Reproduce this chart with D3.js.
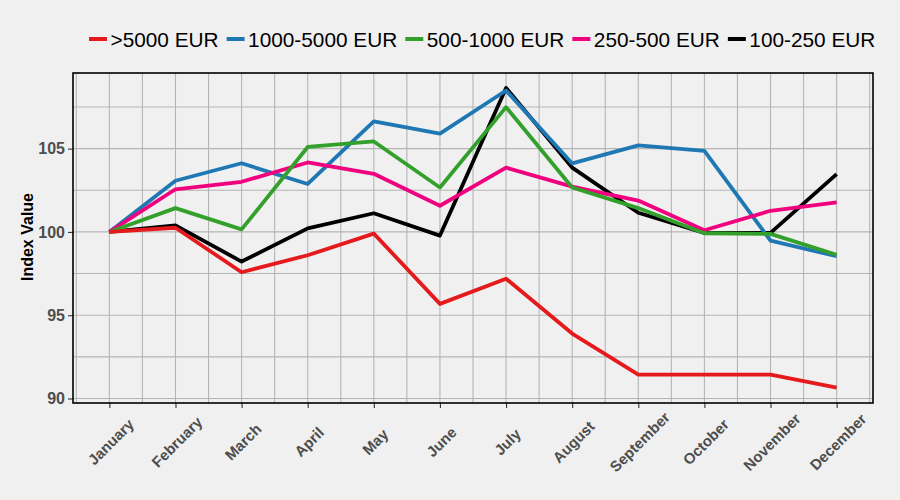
<!DOCTYPE html>
<html>
<head>
<meta charset="utf-8">
<script src="https://cdn.jsdelivr.net/npm/d3@7"></script>
<style>
  html, body { margin: 0; padding: 0; background: #F0F0F0; }
  svg { display: block; }
</style>
</head>
<body>
<div id="chart"></div>
<script>
const months = ["January","February","March","April","May","June","July","August","September","October","November","December"];
const seriesNames = [">5000 EUR","1000-5000 EUR","500-1000 EUR","250-500 EUR","100-250 EUR"];
const seriesColors = ["#E41A1C","#1F78B4","#33A02C","#F0027F","#000000"];
const over5000   = [100, 100.25, 97.58, 98.60, 99.90, 95.68, 97.19, 93.90, 91.43, 91.43, 91.43, 90.65];
const r1000_5000 = [100, 103.07, 104.12, 102.88, 106.63, 105.90, 108.49, 104.11, 105.20, 104.86, 99.48, 98.54];
const r500_1000  = [100, 101.43, 100.15, 105.10, 105.43, 102.67, 107.49, 102.67, 101.43, 99.92, 99.88, 98.63];
const r250_500   = [100, 102.56, 103.01, 104.17, 103.49, 101.57, 103.86, 102.72, 101.88, 100.10, 101.27, 101.77];
const r100_250   = [100, 100.39, 98.22, 100.21, 101.12, 99.78, 108.64, 103.86, 101.15, 99.94, 99.94, 103.47];
const yTicks = [90, 95, 100, 105];
const yMinor = [92.5, 97.5, 102.5, 107.5];
const yTitle = "Index Value";

const seriesValues = [over5000, r1000_5000, r500_1000, r250_500, r100_250];
const drawOrder = [4, 1, 3, 2, 0];

const W = 900, H = 500;
const pL = 73, pR = 873, pT = 73, pB = 403;
const FONT = "Liberation Sans, Arial, sans-serif";

const svg = d3.select("#chart").append("svg").attr("width", W).attr("height", H);
svg.append("rect").attr("width", W).attr("height", H).attr("fill", "#F0F0F0");

const x = d3.scaleLinear().domain([0.45, 12.55]).range([pL, pR]);
const y = d3.scaleLinear().domain([89.73, 109.54]).range([pB, pT]);

const grid = svg.append("g");
const gridColor = "#B5B5B5";
const xMinor = d3.range(0, 13).map(i => i + 0.5);
grid.selectAll("line.vx").data(xMinor.concat(d3.range(1, 13))).enter().append("line")
  .attr("x1", d => x(d)).attr("x2", d => x(d)).attr("y1", pT).attr("y2", pB)
  .attr("stroke", gridColor).attr("stroke-width", 1.1);
grid.selectAll("line.hy").data(yMinor.concat(yTicks)).enter().append("line")
  .attr("y1", d => y(d)).attr("y2", d => y(d)).attr("x1", pL).attr("x2", pR)
  .attr("stroke", gridColor).attr("stroke-width", 1.1);

// axes
const yAxis = d3.axisLeft(y).tickValues(yTicks).tickSize(5).tickPadding(3).tickFormat(d3.format("d"));
const gy = svg.append("g").attr("transform", `translate(${pL},0)`).call(yAxis);
gy.select(".domain").remove();
gy.selectAll(".tick line").attr("stroke", "#333").attr("stroke-width", 1.1);
gy.selectAll(".tick text").attr("fill", "#4D4D4D").style("font-family", FONT)
  .style("font-size", "16px").style("font-weight", "bold");

const xAxis = d3.axisBottom(x).tickValues(d3.range(1, 13)).tickSize(5).tickFormat(d => months[d - 1]);
const gx = svg.append("g").attr("transform", `translate(0,${pB})`).call(xAxis);
gx.select(".domain").remove();
gx.selectAll(".tick line").attr("stroke", "#333").attr("stroke-width", 1.1);
gx.selectAll(".tick text")
  .attr("fill", "#4D4D4D").style("font-family", FONT)
  .style("font-size", "15px").style("font-weight", "bold")
  .attr("y", 0).attr("dy", "0.35em")
  .attr("text-anchor", "middle")
  .attr("transform", "translate(1,39) rotate(-45)");

// lines
const line = d3.line().x((d, i) => x(i + 1)).y(d => y(d));
const lg = svg.append("g");
drawOrder.forEach(k => {
  lg.append("path").datum(seriesValues[k]).attr("d", line)
    .attr("fill", "none").attr("stroke", seriesColors[k]).attr("stroke-width", 3.8)
    .attr("stroke-linejoin", "round").attr("stroke-linecap", "butt");
});

// panel border
svg.append("rect").attr("x", pL).attr("y", pT).attr("width", pR - pL).attr("height", pB - pT)
  .attr("fill", "none").attr("stroke", "#000").attr("stroke-width", 1.6);

// y title
svg.append("text").attr("transform", `translate(33,237) rotate(-90)`)
  .attr("text-anchor", "middle").style("font-family", FONT)
  .style("font-size", "16px").style("font-weight", "bold").attr("fill", "#000").text(yTitle);

// legend
const leg = svg.append("g");
let lx = 89;
seriesNames.forEach((name, k) => {
  leg.append("line").attr("x1", lx).attr("x2", lx + 18).attr("y1", 39).attr("y2", 39)
    .attr("stroke", seriesColors[k]).attr("stroke-width", 4);
  const t = leg.append("text").attr("x", lx + 21.5).attr("y", 47)
    .style("font-family", FONT).style("font-size", "20.8px")
    .attr("fill", "#000").text(name);
  lx = lx + 21.5 + t.node().getComputedTextLength() + 8;
});
</script>
</body>
</html>
